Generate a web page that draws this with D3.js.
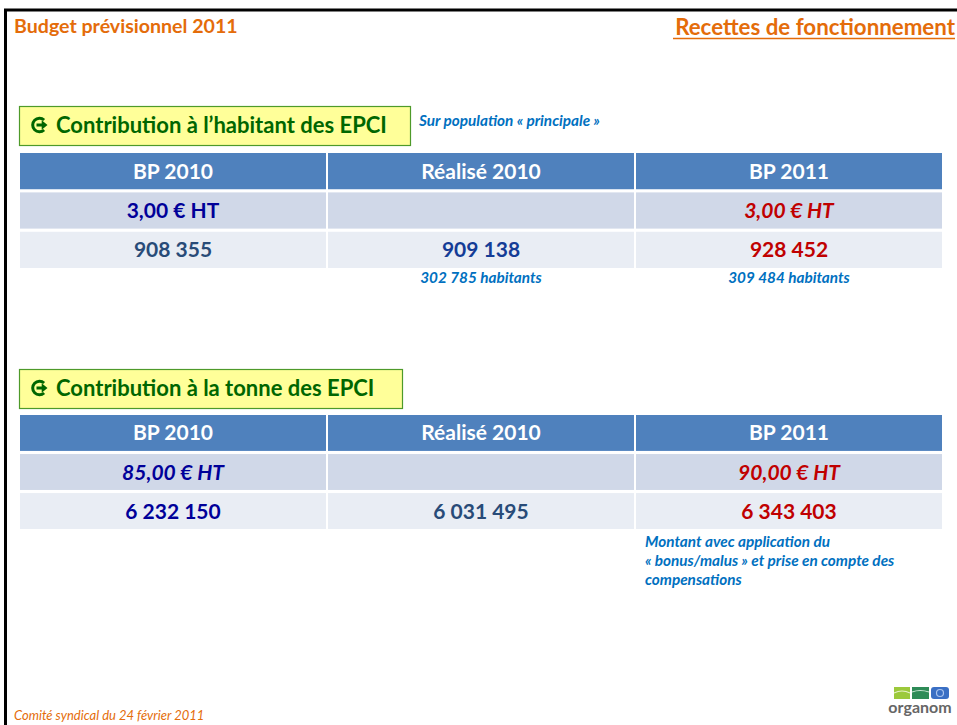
<!DOCTYPE html>
<html>
<head>
<meta charset="utf-8">
<script src="https://cdn.jsdelivr.net/npm/d3@7"></script>
<style>
  html, body { margin: 0; padding: 0; background: #fff; }
  svg { display: block; font-family: Lato, "Open Sans", sans-serif; }
</style>
</head>
<body>
<svg id="slide" width="957" height="725"></svg>
<script>
"use strict";

// table data
var columns = ["BP 2010", "Réalisé 2010", "BP 2011"];
var rowKeys = ["head", "rate", "amount"];

var habRates = ["3,00 € HT", "", "3,00 € HT"];
var habAmounts = [908355, 909138, 928452];
var habNotes = ["", "302 785 habitants", "309 484 habitants"];

var tonneRates = ["85,00 € HT", "", "90,00 € HT"];
var tonneAmounts = [6232150, 6031495, 6343403];

var ORANGE = "#E46C0A";
var NOTE_BLUE = "#0070C0";
var RED = "#C00000";
var DARK_GREEN = "#006600";
var HEAD_FILL = "#4F81BD";
var ROW_FILLS = { rate: "#D0D8E8", amount: "#E9EDF4" };
var CELL_FONT = 21;

// per-column text styles for the two body rows
var habStyles = {
  rate:   [{ color: "#000099", italic: false }, null, { color: RED, italic: true }],
  amount: [{ color: "#284B78", italic: false }, { color: "#143C96", italic: false }, { color: RED, italic: false }]
};
var tonneStyles = {
  rate:   [{ color: "#000099", italic: true }, null, { color: RED, italic: true }],
  amount: [{ color: "#000099", italic: false }, { color: "#284B78", italic: false }, { color: RED, italic: false }]
};

var fr = d3.formatLocale({ decimal: ",", thousands: " ", grouping: [3], currency: ["", " €"] });
var fmt = fr.format(",d");

var svg = d3.select("#slide");

// slide frame
svg.append("path")
  .attr("d", "M5.5,725 V10 H957")
  .attr("fill", "none")
  .attr("stroke", "#000")
  .attr("stroke-width", 3);

svg.append("text")
  .attr("x", 14).attr("y", 33)
  .attr("fill", ORANGE)
  .attr("font-weight", "bold")
  .attr("font-size", 19.6)
  .text("Budget prévisionnel 2011");

svg.append("text")
  .attr("x", 955).attr("y", 35)
  .attr("text-anchor", "end")
  .attr("fill", ORANGE)
  .attr("font-weight", "bold")
  .attr("font-size", 22.3)
  .text("Recettes de fonctionnement");
svg.append("line")
  .attr("x1", 673).attr("x2", 955)
  .attr("y1", 38.5).attr("y2", 38.5)
  .attr("stroke", ORANGE).attr("stroke-width", 1.3);

var x = d3.scaleBand().domain(columns).range([20, 942]).paddingInner(2 / 308);

function sectionTitle(top, width, label) {
  var g = svg.append("g").attr("transform", "translate(19," + top + ")");
  g.append("rect")
    .attr("x", 0.5).attr("y", 0.5)
    .attr("width", width).attr("height", 39)
    .attr("fill", "#FFFF99")
    .attr("stroke", "#4E9A2A").attr("stroke-width", 1.2);

  // wingdings-like circled arrow bullet
  var b = g.append("g").attr("transform", "translate(20.5,19)");
  b.append("path")
    .attr("d", "M4.6,-5 A6.8,6.8 0 1 0 4.6,5")
    .attr("fill", "none")
    .attr("stroke", DARK_GREEN)
    .attr("stroke-width", 3);
  b.append("path")
    .attr("d", "M-3,-1.5 H2.2 V-4.8 L8,0 L2.2,4.8 V1.5 H-3 Z")
    .attr("fill", DARK_GREEN);

  g.append("text")
    .attr("x", 37).attr("y", 26.5)
    .attr("fill", DARK_GREEN)
    .attr("font-weight", "bold")
    .attr("font-size", 22)
    .text(label);
}

function drawTable(top, bottom, rates, amounts, styles) {
  var y = d3.scaleBand().domain(rowKeys).range([top, bottom]).paddingInner(0.08);
  var g = svg.append("g");

  // header cells
  g.selectAll("rect.head")
    .data(columns)
    .join("rect")
    .attr("class", "head")
    .attr("x", function (d) { return x(d); })
    .attr("y", y("head"))
    .attr("width", x.bandwidth())
    .attr("height", y.bandwidth())
    .attr("fill", HEAD_FILL);

  g.selectAll("text.head")
    .data(columns)
    .join("text")
    .attr("class", "head")
    .attr("x", function (d) { return x(d) + x.bandwidth() / 2; })
    .attr("y", y("head") + y.bandwidth() / 2 + 7.5)
    .attr("text-anchor", "middle")
    .attr("fill", "#fff")
    .attr("font-weight", "bold")
    .attr("font-size", CELL_FONT)
    .text(function (d) { return d; });

  var body = [
    { key: "rate", values: rates },
    { key: "amount", values: amounts.map(fmt) }
  ];

  body.forEach(function (row) {
    g.selectAll("rect." + row.key)
      .data(columns)
      .join("rect")
      .attr("class", row.key)
      .attr("x", function (d) { return x(d); })
      .attr("y", y(row.key))
      .attr("width", x.bandwidth())
      .attr("height", y.bandwidth())
      .attr("fill", ROW_FILLS[row.key]);

    g.selectAll("text." + row.key)
      .data(row.values)
      .join("text")
      .attr("class", row.key)
      .attr("x", function (d, i) { return x(columns[i]) + x.bandwidth() / 2; })
      .attr("y", y(row.key) + y.bandwidth() / 2 + 7.5)
      .attr("text-anchor", "middle")
      .attr("font-weight", "bold")
      .attr("font-size", CELL_FONT)
      .attr("font-style", function (d, i) { return styles[row.key][i] && styles[row.key][i].italic ? "italic" : "normal"; })
      .attr("fill", function (d, i) { return styles[row.key][i] ? styles[row.key][i].color : "#000"; })
      .text(function (d) { return d; });
  });

  return y;
}

function note(xPos, yPos, anchor, str) {
  svg.append("text")
    .attr("x", xPos).attr("y", yPos)
    .attr("text-anchor", anchor)
    .attr("fill", NOTE_BLUE)
    .attr("font-weight", "bold")
    .attr("font-style", "italic")
    .attr("font-size", 15.3)
    .text(str);
}

// section 1
sectionTitle(106, 391, "Contribution à l’habitant des EPCI");
note(419, 126, "start", "Sur population « principale »");
var y1 = drawTable(153, 268, habRates, habAmounts, habStyles);
habNotes.forEach(function (n, i) {
  if (n) note(x(columns[i]) + x.bandwidth() / 2, y1.range()[1] + 15, "middle", n);
});

// section 2
sectionTitle(369, 383, "Contribution à la tonne des EPCI");
var y2 = drawTable(415, 529, tonneRates, tonneAmounts, tonneStyles);
var tonneNote = ["Montant avec application du", "« bonus/malus » et prise en compte des", "compensations"];
tonneNote.forEach(function (line, i) {
  note(x(columns[2]) + 9, y2.range()[1] + 18 + i * 19, "start", line);
});

// footer
svg.append("text")
  .attr("x", 14).attr("y", 720)
  .attr("fill", ORANGE)
  .attr("font-style", "italic")
  .attr("font-size", 13)
  .text("Comité syndical du 24 février 2011");

// logo
var logo = svg.append("g").attr("transform", "translate(894,687)");
logo.append("rect").attr("width", 16).attr("height", 12).attr("fill", "#9CC93B");
logo.append("path").attr("d", "M0,6 Q8,2 16,6").attr("fill", "none").attr("stroke", "#e8f2c8").attr("stroke-width", 1.2);
logo.append("rect").attr("x", 18).attr("width", 17).attr("height", 12).attr("fill", "#2E8B57");
logo.append("path").attr("d", "M18,5 Q26,2 35,5").attr("fill", "none").attr("stroke", "#c8e6d2").attr("stroke-width", 1.2);
logo.append("rect").attr("x", 37).attr("width", 18).attr("height", 12).attr("rx", 3).attr("fill", "#3A6FC4");
logo.append("circle").attr("cx", 46).attr("cy", 6).attr("r", 3.5).attr("fill", "none").attr("stroke", "#a9c4ee").attr("stroke-width", 1.2);
svg.append("text")
  .attr("x", 920).attr("y", 713)
  .attr("text-anchor", "middle")
  .attr("fill", "#666")
  .attr("font-weight", "bold")
  .attr("font-size", 16)
  .text("organom");
</script>
</body>
</html>
